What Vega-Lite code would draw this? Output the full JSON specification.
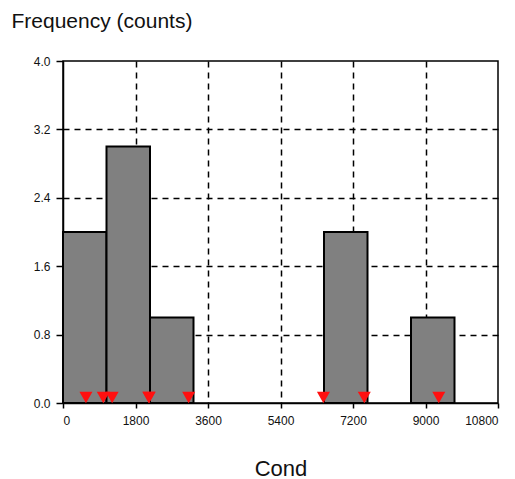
{
  "$schema": "https://vega.github.io/schema/vega-lite/v6.json",
  "autosize": "none",
  "padding": {"left": 63, "top": 61, "right": 17, "bottom": 76},
  "width": 435,
  "height": 342,
  "background": "white",
  "datasets": {
    "bins": [
      {"bin_start": 0, "bin_end": 1080, "count": 2},
      {"bin_start": 1080, "bin_end": 2160, "count": 3},
      {"bin_start": 2160, "bin_end": 3240, "count": 1},
      {"bin_start": 6480, "bin_end": 7560, "count": 2},
      {"bin_start": 8640, "bin_end": 9720, "count": 1}
    ],
    "obs": [
      {"Cond": 570}, {"Cond": 1000}, {"Cond": 1220}, {"Cond": 2130}, {"Cond": 2140},
      {"Cond": 3120}, {"Cond": 6466}, {"Cond": 7480}, {"Cond": 9330}
    ]
  },
  "config": {
    "view": {"stroke": "black", "strokeWidth": 1.5},
    "axis": {
      "domainColor": "black",
      "domainWidth": 1.5,
      "tickColor": "black",
      "tickWidth": 1.5,
      "labelColor": "#111",
      "labelFont": "Liberation Sans",
      "labelFontSize": 12,
      "titleFont": "Liberation Sans",
      "titleFontWeight": "normal",
      "titleColor": "#111",
      "gridColor": "black",
      "gridWidth": 1.5,
      "gridDash": [6, 5]
    }
  },
  "layer": [
    {
      "data": {"name": "bins"},
      "mark": {"type": "rect", "fill": "#808080", "stroke": "black", "strokeWidth": 2},
      "encoding": {
        "x": {
          "field": "bin_start", "type": "quantitative",
          "scale": {"domain": [0, 10800], "nice": false, "zero": false},
          "axis": {
            "title": "Cond",
            "titleFontSize": 22,
            "values": [0, 900, 1800, 2700, 3600, 4500, 5400, 6300, 7200, 8100, 9000, 9900, 10800],
            "labelExpr": "datum.value % 1800 == 0 ? datum.value + '' : ''",
            "tickSize": {"condition": {"test": "datum.value % 1800 != 0", "value": 3}, "value": 5},
            "gridOpacity": {"condition": {"test": "datum.value % 1800 != 0 || datum.value == 0 || datum.value == 10800", "value": 0}, "value": 1},
            "labelPadding": 7,
            "titleY": 72,
            "titleBaseline": "alphabetic"
          }
        },
        "x2": {"field": "bin_end"},
        "y": {
          "field": "count", "type": "quantitative",
          "scale": {"domain": [0, 4], "nice": false},
          "axis": {
            "title": "Frequency (counts)",
            "titleFontSize": 21,
            "values": [0, 0.4, 0.8, 1.2, 1.6, 2.0, 2.4, 2.8, 3.2, 3.6, 4.0],
            "labelExpr": "round(datum.value*10) % 8 == 0 ? format(datum.value, '.1f') : ''",
            "tickSize": {"condition": {"test": "round(datum.value*10) % 8 != 0", "value": 3}, "value": 7},
            "gridOpacity": {"condition": {"test": "round(datum.value*10) % 8 != 0 || datum.value == 0 || datum.value > 3.9", "value": 0}, "value": 1},
            "labelPadding": 6,
            "titleAngle": 0,
            "titleAlign": "left",
            "titleBaseline": "alphabetic",
            "titleX": -52,
            "titleY": -34
          }
        },
        "y2": {"datum": 0}
      }
    },
    {
      "data": {"name": "obs"},
      "mark": {"type": "point", "shape": "triangle-down", "filled": true, "color": "#ff1010", "opacity": 1, "size": 170, "yOffset": -5.5},
      "encoding": {
        "x": {"field": "Cond", "type": "quantitative", "title": "Cond"},
        "y": {"datum": 0}
      }
    }
  ]
}
